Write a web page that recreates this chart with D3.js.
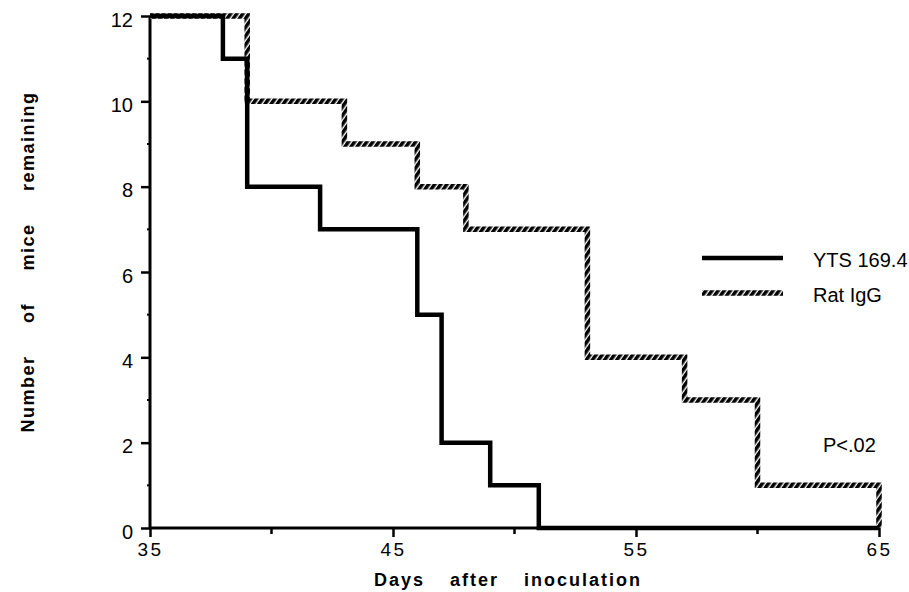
<!DOCTYPE html>
<html>
<head>
<meta charset="utf-8">
<script src="https://cdn.jsdelivr.net/npm/d3@7"></script>
<style>
  body { margin: 0; background: #fff; }
  text { font-family: "Liberation Sans", Arial, sans-serif; fill: #000; }
</style>
</head>
<body>
<svg id="chart" width="909" height="592"></svg>
<script>
// survival steps: day of each change and mice remaining from that day on
var ytsDays   = [35, 38, 39, 42, 46, 47, 49, 51, 65];
var ytsCounts = [12, 11, 8, 7, 5, 2, 1, 0, 0];
var ratDays   = [35, 39, 43, 46, 48, 53, 57, 60, 65];
var ratCounts = [12, 10, 9, 8, 7, 4, 3, 1, 0];

var xMajor = [35, 45, 55, 65];
var xMinor = [40, 50, 60];
var yMajor = [0, 2, 4, 6, 8, 10, 12];
var yMinor = [1, 3, 5, 7, 9, 11];

var seriesNames = ["YTS 169.4", "Rat IgG"];

var svg = d3.select("#chart");

var x = d3.scaleLinear().domain([35, 65]).range([150, 879]);
var y = d3.scaleLinear().domain([0, 12]).range([528, 16]);

// hatch pattern for the control group line
var defs = svg.append("defs");
var pat = defs.append("pattern")
    .attr("id", "hatch")
    .attr("patternUnits", "userSpaceOnUse")
    .attr("width", 5)
    .attr("height", 10)
    .attr("patternTransform", "rotate(35)");
pat.append("rect").attr("width", 5).attr("height", 10).attr("fill", "#fff");
pat.append("rect").attr("width", 3.6).attr("height", 10).attr("fill", "#000");

// ****************** axes ***************************
var xAxis = svg.append("g")
    .attr("transform", "translate(0," + y(0) + ")")
    .call(d3.axisBottom(x).tickValues(xMajor).tickSize(9).tickPadding(6).tickFormat(d3.format("d")));
xAxis.select(".domain").attr("stroke-width", 3).attr("d", "M" + x(35) + ",0H" + x(65));
xAxis.selectAll(".tick line").attr("stroke-width", 2.5);
xAxis.selectAll(".tick text").style("font-size", "19px").style("letter-spacing", "2.5px");

svg.append("g").selectAll("line")
    .data(xMinor)
  .enter().append("line")
    .attr("x1", function(d) { return x(d); })
    .attr("x2", function(d) { return x(d); })
    .attr("y1", y(0))
    .attr("y2", y(0) + 6)
    .attr("stroke", "#000")
    .attr("stroke-width", 2.5);

var yAxis = svg.append("g")
    .attr("transform", "translate(" + x(35) + ",0)")
    .call(d3.axisLeft(y).tickValues(yMajor).tickSize(9).tickPadding(8).tickFormat(d3.format("d")));
yAxis.select(".domain").attr("stroke-width", 3).attr("d", "M0," + y(12) + "V" + y(0));
yAxis.selectAll(".tick line").attr("stroke-width", 2.5);
yAxis.selectAll(".tick text").style("font-size", "20px").attr("dy", "0.5em");

svg.append("g").selectAll("line")
    .data(yMinor)
  .enter().append("line")
    .attr("x1", x(35) - 3)
    .attr("x2", x(35))
    .attr("y1", function(d) { return y(d); })
    .attr("y2", function(d) { return y(d); })
    .attr("stroke", "#000")
    .attr("stroke-width", 2);

svg.selectAll(".domain, .tick line").attr("stroke", "#000");

// axis titles
svg.append("text")
    .attr("x", 508)
    .attr("y", 586)
    .attr("text-anchor", "middle")
    .style("font-size", "18px")
    .style("font-weight", "bold")
    .style("letter-spacing", "2px")
    .style("word-spacing", "18px")
    .text("Days after inoculation");

svg.append("text")
    .attr("transform", "translate(34,262) rotate(-90)")
    .attr("text-anchor", "middle")
    .style("font-size", "18px")
    .style("font-weight", "bold")
    .style("letter-spacing", "1.5px")
    .style("word-spacing", "26px")
    .text("Number of mice remaining");

// ****************** survival steps ***************************
var step = d3.line()
    .x(function(d) { return x(d[0]); })
    .y(function(d) { return y(d[1]); })
    .curve(d3.curveStepAfter);

var ratPts = ratDays.map(function(d, i) { return [d, ratCounts[i]]; });
var ytsPts = ytsDays.map(function(d, i) { return [d, ytsCounts[i]]; });

svg.append("path")
    .attr("d", step(ratPts))
    .attr("fill", "none")
    .attr("stroke", "url(#hatch)")
    .attr("stroke-width", 5.5);

svg.append("path")
    .attr("d", step(ytsPts))
    .attr("fill", "none")
    .attr("stroke", "#000")
    .attr("stroke-width", 4.5);

// ****************** legend ***************************
var legend = svg.append("g").selectAll("g")
    .data(seriesNames)
  .enter().append("g")
    .attr("transform", function(d, i) { return "translate(702," + (258 + i * 35) + ")"; });

legend.append("line")
    .attr("x1", 0)
    .attr("x2", 81)
    .attr("stroke", function(d, i) { return i == 0 ? "#000" : "url(#hatch)"; })
    .attr("stroke-width", function(d, i) { return i == 0 ? 4.5 : 5.5; });

legend.append("text")
    .attr("x", 111)
    .attr("dy", "0.45em")
    .style("font-size", "20px")
    .text(function(d) { return d; });

svg.append("text")
    .attr("x", 823)
    .attr("y", 452)
    .style("font-size", "20px")
    .text("P<.02");
</script>
</body>
</html>
